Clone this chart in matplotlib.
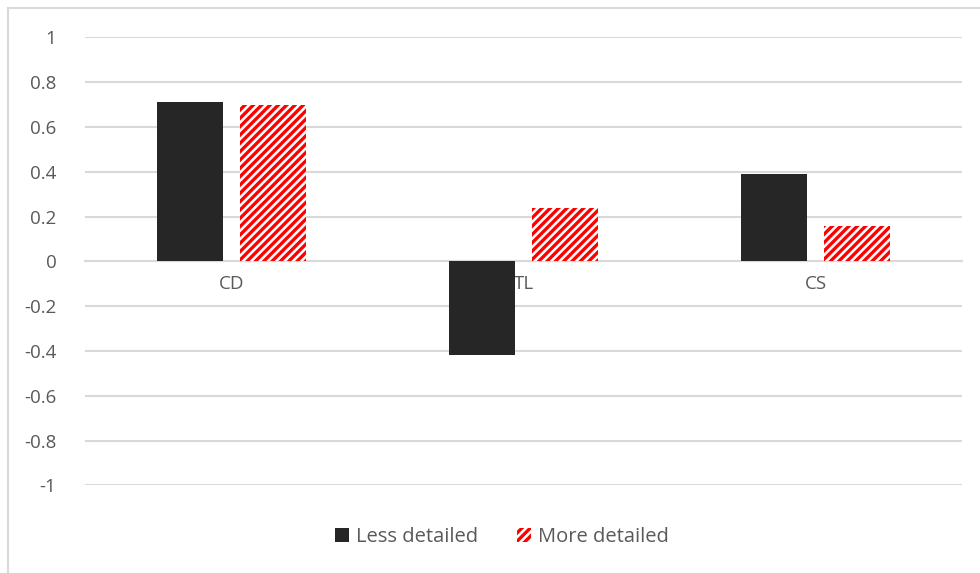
import matplotlib.pyplot as plt
import numpy as np
from matplotlib.lines import Line2D
from matplotlib.patches import Patch

categories = ['CD', 'TL', 'CS']
less_detailed = [0.71, -0.42, 0.39]
more_detailed = [0.70, 0.24, 0.16]
y_ticks = [-1, -0.8, -0.6, -0.4, -0.2, 0, 0.2, 0.4, 0.6, 0.8, 1]
y_tick_labels = ['-1', '-0.8', '-0.6', '-0.4', '-0.2', '0', '0.2', '0.4', '0.6', '0.8', '1']

plt.rcParams['font.family'] = ['Open Sans', 'DejaVu Sans']
plt.rcParams['hatch.linewidth'] = 2.4

text_color = '#595959'
grid_color = '#d9d9d9'

fig = plt.figure(figsize=(9.8, 5.73), dpi=100)
ax = fig.add_axes([0.0872, 0.153, 0.8944, 0.7816])

x = np.arange(len(categories))
width = 0.226
offset = 0.142

ax.bar(x - offset, less_detailed, width, color='#262626', label='Less detailed', zorder=3)
ax.bar(x + offset, more_detailed, width, color='white', edgecolor='red', hatch='////',
       linewidth=0, label='More detailed', zorder=3)

ax.set_xlim(-0.5, len(categories) - 0.5)
ax.set_ylim(-1, 1)
ax.set_yticks(y_ticks)
ax.set_yticklabels(y_tick_labels)
ax.set_xticks(x)
ax.set_xticklabels(categories)

ax.yaxis.grid(True, color=grid_color, linewidth=1.5, zorder=0)
ax.set_axisbelow(True)
for side in ['top', 'right', 'left']:
    ax.spines[side].set_visible(False)
ax.spines['bottom'].set_position(('data', 0))
ax.spines['bottom'].set_color(grid_color)
ax.spines['bottom'].set_linewidth(1.5)
ax.spines['bottom'].set_zorder(1)

ax.tick_params(axis='both', length=0, colors=text_color, labelsize=13.5)
ax.tick_params(axis='x', pad=10)
ax.tick_params(axis='y', pad=21)

handles = [
    Patch(facecolor='#262626', edgecolor='none', label='Less detailed'),
    Patch(facecolor='white', edgecolor='red', hatch='////', linewidth=0, label='More detailed'),
]
leg = fig.legend(handles=handles, loc='center', bbox_to_anchor=(0.512, 0.063), ncol=2,
                 frameon=False, handlelength=0.7, handleheight=0.7, handletextpad=0.35,
                 columnspacing=1.9, fontsize=14.5)
for t in leg.get_texts():
    t.set_color(text_color)

# chart border (left and top edges visible)
fig.add_artist(Line2D([8 / 980, 8 / 980], [0, 1 - 8 / 573], transform=fig.transFigure,
                      color=grid_color, linewidth=1.5))
fig.add_artist(Line2D([8 / 980, 1], [1 - 8 / 573, 1 - 8 / 573], transform=fig.transFigure,
                      color=grid_color, linewidth=1.5))

fig.savefig('out.png', dpi=100)
